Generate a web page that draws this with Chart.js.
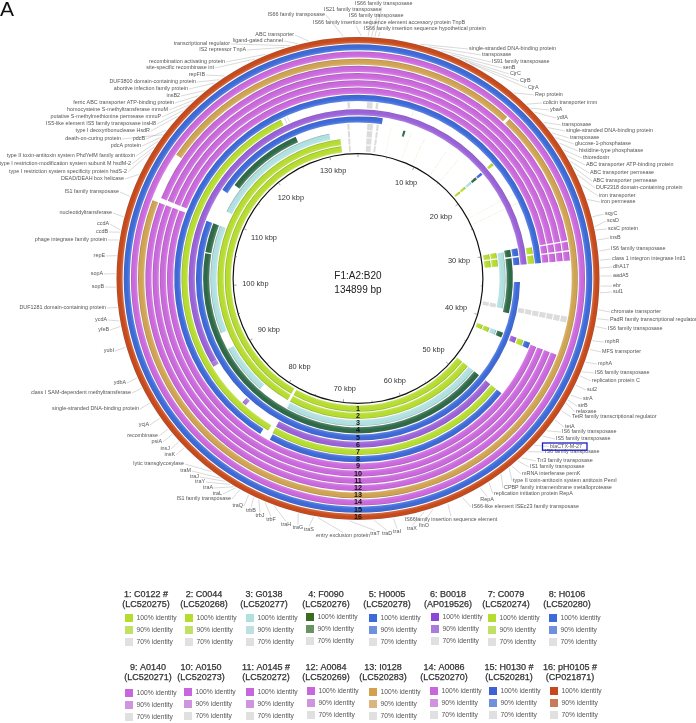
<!DOCTYPE html>
<html>
<head>
<meta charset="utf-8">
<script src="https://cdn.jsdelivr.net/npm/chart.js@4/dist/chart.umd.min.js"></script>
<style>
html,body{margin:0;padding:0;background:#fff;}
canvas{display:block;filter:blur(0.45px);}
</style>
</head>
<body>
<canvas id="c" width="696" height="723"></canvas>
<script>
// ---------- DATA ----------
const genomeKbp = 134.899;
const tickKbp = [10,20,30,40,50,60,70,80,90,100,110,120,130];
const strainNames = ['1: C0122 #','2: C0044','3: G0138','4: F0090','5: H0005','6: B0018','7: C0079','8: H0106',
  '9: A0140','10: A0150','11: A0145 #','12: A0084','13: I0128','14: A0086','15: H0130 #','16: pH0105 #'];
const accessions = ['(LC520275)','(LC520268)','(LC520277)','(LC520276)','(LC520278)','(AP019526)','(LC520274)','(LC520280)',
  '(LC520271)','(LC520273)','(LC520272)','(LC520269)','(LC520283)','(LC520270)','(LC520281)','(CP021871)'];
const identityLabels = ['100% identity','90% identity','70% identity'];

// BLAST hit spans [start kbp, end kbp, identity level]; 1 = 100%, 2 = 90%, 3 = 70%, 4 = trace hit
const traces = [[4.6,4.68,4],[7.5,7.58,4],[9.5,9.6,4],[13,13.1,4],[15,15.1,4],[23,23.08,4],[24.2,24.3,4]];
const greys = [[1.3,2.1,3],[2.6,2.9,3],[133.4,133.7,3]];
const ring1Spans = [[18.45,18.8,1],[29.8,30.6,1],[30.8,31.9,1],[37.6,38.2,3],[41.4,42.1,1],[48.2,78.3,1],[78.7,132.2,1]];
const ring2Spans = [[18.45,18.8,1],[29.8,30.6,1],[30.8,31.9,1],[37.6,38.2,3],[41.4,42.1,1],[48.2,78.3,1],[78.7,132.2,1]];
const ring3Spans = [[18.45,18.8,1],[29.9,38.1,1],[41.4,42.1,1],[48.2,78.2,1],[83,90.5,1],[93,109,1],[111.3,130.7,1]];
const ring4Spans = [[6.4,6.7,1],[18.45,18.8,1],[29.7,30.7,1],[30.9,38.6,1],[41.4,42.1,1],[48.2,104.7,1],[104.85,109,1],[115.1,126,1]];
const ring5Spans = [[0,3.3,1],[18.45,18.8,1],[29.7,30.7,1],[30.9,31.9,1],[34.2,109,1],[113.6,genomeKbp,1]];
const ring6Spans = [[0,31.9,1],[37.6,38.2,3],[41.4,42.1,1],[48.2,78.3,1],[83,83.6,2],[89.4,90,2],[90,genomeKbp,1]];
const ring7Spans = [[1.1,1.8,3],[2.2,2.5,3],[6.8,6.9,4],[18.45,18.8,1],[29.9,30.7,1],[30.9,31.9,1],[37.6,38.2,3],[41.4,42.1,1],[48.2,78.3,1],[78.9,125.2,1],[125.6,125.75,3],[126,126.1,3],[133.6,133.9,3]];
const ring8Spans = [[0,31.9,1],[37.6,38.2,3],[41.4,42.1,1],[48.2,78.2,1],[79.5,genomeKbp,1]];
const ring9Spans = [[0,29.85,1],[30,30.85,1],[31,31.9,1],[37.6,38.2,3],[41.6,109,1],[109.5,genomeKbp,1]];
const ring10Spans = [[0,29.85,1],[30,30.85,1],[31,31.9,1],[37.6,38.2,3],[41.6,109,1],[109.5,genomeKbp,1]];
const ring11Spans = [[0,29.85,1],[30,30.85,1],[31,31.9,1],[37.6,38.2,3],[41.6,109,1],[109.5,genomeKbp,1]];
const ring12Spans = [[0,29.85,1],[30,30.85,1],[31,31.9,1],[37.6,38.2,3],[41.6,109,1],[109.5,genomeKbp,1]];
const ring13Spans = [[0,16,1],[16.3,109,1],[114,genomeKbp,1]];
const ring14Spans = [[0,genomeKbp,1]];
const ring15Spans = [[0,genomeKbp,1]];
const ring16Spans = [[0,genomeKbp,1]];

// annotated genes, clockwise, and their position on the plasmid (kbp)
const geneNames = [
 'IS66 family insertion sequence hypothetical protein','IS66 family transposase','IS21 family transposase','IS6 family transposase','IS66 family insertion sequence element accessory protein TnpB',
 'single-stranded DNA-binding protein','transposase','IS91 family transposase','senB','CjrC','CjrB','CjrA','Rep protein',
 'colicin transporter imm','ybaA','ydfA','transposase','single-stranded DNA-binding protein','transposase','glucose-1-phosphatase','histidine-type phosphatase','thioredoxin',
 'ABC transporter ATP-binding protein','ABC transporter permease','ABC transporter permease','DUF2318 domain-containing protein','iron transporter','iron permease',
 'sqyC','scsD','scsC protein','insB','IS6 family transposase','class 1 integron integrase IntI1','dfrA17','aadA5','ebr','sul1',
 'chromate transporter','PadR family transcriptional regulator','IS6 family transposase','mphR','MFS transporter','mphA','IS6 family transposase','replication protein C','sul2','strA','strB','relaxase','TetR family transcriptional regulator','tetA',
 'IS6 family transposase','IS5 family transposase','blaCTX-M-27','IS6 family transposase','Tn3 family transposase','IS1 family transposase','mRNA interferase pemK','type II toxin-antitoxin system antitoxin PemI','CPBP family intramembrane metalloprotease','replication initiation protein RepA','RepA','IS66-like element ISEc23 family transposase',
 'IS66family insertion sequence element','finO','traX','traI','traD','traT','entry exclusion protein','traS','traG','traH','trbF','trbJ','trbB','traQ','IS1 family transposase','traL','traA','traY','traJ','traM','lytic transglycosylase',
 'insK','insJ','psiA','recombinase','ycjA','single-stranded DNA-binding protein','class I SAM-dependent methyltransferase','ydbA','yubI','yfeB','ycdA','DUF1281 domain-containing protein','sopB','sopA','repE','phage integrase family protein','ccdB','ccdA','nucleotidyltransferase','IS1 family transposase',
 'DEAD/DEAH box helicase','type I restriction system specificity protein hsdS-2','type I restriction-modification system subunit M hsdM-2','type II toxin-antitoxin system PhdYefM family antitoxin','pdcA protein','death-on-curing protein','pdcB','type I deoxyribonuclease HsdR','IS5-like element IS5 family transposase insH8','putative S-methylmethionine permease mmuP','homocysteine S-methyltransferase mmuM','ferric ABC transporter ATP-binding protein','insB2','abortive infection family protein','DUF3800 domain-containing protein','repFIB','site-specific recombinase int','recombination activating protein','IS2 repressor TnpA','transcriptional regulator','ligand-gated channel','ABC transporter','IS66 family transposase'
];
const geneKbp = [
 1.8,1.5,1.2,0.9,0.3,
 5.6,6.4,7.5,8.5,9.2,9.8,10.3,15,
 16.5,17,17.5,18.7,19.3,19.9,20.4,21,21.7,
 22.3,22.9,23.5,24.2,25.2,26.6,
 28.2,29.1,29.4,30.3,31.3,32.1,32.8,33.5,34.4,35,
 36.5,37.3,38,39.3,40.1,41.3,42.2,42.6,43.5,44.5,45,45.3,46.1,47.1,
 48.3,48.9,50,50.8,51.6,52,52.7,53,53.9,55.2,56.1,57.9,
 59.3,60.7,61.5,64.3,66,68.2,71,71.4,72.8,75,75.9,76.5,77,77.5,78.4,78.8,79,79.4,79.9,80.4,81.4,
 84.6,85.3,86.2,86.8,88,89.6,91.1,92.1,95,96.9,97.4,98.6,100.4,101.6,103.2,104.6,105.3,105.5,106.7,108.6,
 110.7,113,113.5,114.1,114.5,114.8,115.3,116.9,117.6,118.3,118.9,119.5,120.2,121.3,121.8,122.4,125.5,126.5,128.3,128.8,129.5,130.5,133.6
];

// ---------- LAYOUT (not data) ----------
const labelLayout = [
 [364,29,'l',380],[355,4,'l',382],[324,10,'l',378],[349,16,'l',371],[313,23,'l',356],
 [469,49,'l'],[482,55,'l'],[492,62,'l'],[503,68,'l'],[510,74,'l'],[520,81,'l'],[528,88,'l'],[535,95,'l'],
 [543,103,'l'],[550,110,'l'],[557,118,'l'],[562,125,'l'],[566,131,'l'],[570,138,'l'],[575,144,'l'],[579,151,'l'],[583,158,'l'],
 [586,165,'l'],[590,173,'l'],[593,181,'l'],[596,188,'l'],[599,196,'l'],[601,202,'l'],
 [605,214,'l'],[607,221,'l'],[608,229,'l'],[610,238,'l'],[611,249,'l'],[612,259,'l'],[613,267,'l'],[613,276,'l'],[613,286,'l'],[613,292,'l'],
 [611,312,'l'],[610,320,'l'],[608,329,'l'],[605,342,'l'],[602,352,'l'],[598,364,'l'],[595,373,'l'],[592,381,'l'],[587,390,'l'],[583,399,'l'],[578,406,'l'],[576,412,'l'],[572,417,'l'],[565,427,'l'],
 [562,432,'l'],[556,439,'l'],[550,446.5,'l'],[545,452,'l'],[537,461,'l'],[530,467,'l'],[522,474,'l'],[513,481,'l'],[504,488,'l'],[494,494,'l'],[487,500,'b'],[472,507,'l'],
 [451,520,'b'],[424,526,'b'],[412,529,'b'],[397,532,'b'],[387,534,'b'],[375,534,'b'],[343,536,'b'],[309,530,'b'],[298,528,'b'],[286,525,'b'],[271,520,'b'],[260,516,'b'],[251,511,'b'],[243,506,'r'],[231,499,'r'],[222,494,'r'],[213,488,'r'],[205,482,'r'],[199,477,'r'],[191,471,'r'],[184,464,'r'],
 [175,455,'r'],[170,449,'r'],[162,442,'r'],[158,436,'r'],[149,425,'r'],[139,409,'r'],[131,393,'r'],[126,383,'r'],[114,351,'r'],[109,330,'r'],[107,320,'r'],[106,308,'r'],[104,287,'r'],[103,274,'r'],[105,256,'r'],[107,240,'r'],[108,232,'r'],[109,224,'r'],[112,213,'r'],[119,192,'r'],
 [124,179,'r'],[127,172,'r'],[131,164,'r'],[135,156,'r'],[141,146,'r'],[121,139,'r'],[145,139,'r'],[150,131,'r'],[156,124,'r'],[161,117,'r'],[168,110,'r'],[174,103,'r'],[180,96,'r'],[188,89,'r'],[196,82,'r'],[205,75,'r'],[214,68,'r'],[225,62,'r'],[246,50,'r'],[230,44,'r'],[283,41,'r'],[294,35,'r'],[325,15,'r']
];
const cx = 358, cy = 278.5, outerR = 241.5, cutoutR = 124.3;
const ringW = 6.15, gapW = 1.08, hubW = 1.2, hubGapW = 1.6;
const ringColors = ['#b5dc2e','#b5dc2e','#b0e0e0','#2e6a48','#3d6ad8','#9a62d8','#b5dc2e','#3d6ad8','#cb68dd','#cb68dd','#cb68dd','#cb68dd','#cfa352','#cb68dd','#3d6ad8','#c84a1c'];
const legend100 = ['#b5dc2e','#b5dc2e','#b0e0e0','#3b6a22','#3d6ad8','#8a48d8','#b5dc2e','#3d6ad8','#c766dd','#c766dd','#c766dd','#c766dd','#d2a04e','#c766dd','#3d62d4','#c4481c'];
const legend90 = ['#c2e066','#c2e066','#bfdfe2','#6a9263','#6f90dc','#a97bdc','#c2e066','#6f90dc','#cf94de','#cf94de','#cf94de','#cf94de','#d9b67e','#cf94de','#6f90dc','#c97a58'];
const legendSwatchX = [125,185,246,306,369,431,488,549,125,184,246,307,369,430,489,550];
const legendSwatchY = [614,614,614,613,614,613,614,614,689,688,688,687,688,687,687,687];
const legendTitleX = [146,204,264,326,387,448,506,567,148,201,266,326,383,444,509,570];
const legendTitleY = [595,595,595,595,595,595,595,595,668,668,668,668,668,668,668,668];

const allSpans = [ring1Spans,ring2Spans,ring3Spans,ring4Spans,ring5Spans,ring6Spans,ring7Spans,ring8Spans,ring9Spans,ring10Spans,ring11Spans,ring12Spans,ring13Spans,ring14Spans,ring15Spans,ring16Spans];
const FONT = '"Liberation Sans", Arial, sans-serif';

function hex(c){return [1,3,5].map(i=>parseInt(c.substr(i,2),16));}
function mix(c,o,t){const a=hex(c),b=hex(o);return 'rgb('+a.map((v,i)=>Math.round(v*(1-t)+b[i]*t)).join(',')+')';}

const canvas = document.getElementById('c');
const g = canvas.getContext('2d');

const totalWeight = hubW + hubGapW + 16*ringW + 15*gapW;
const k = (outerR-cutoutR)/totalWeight;
function ringBand(i){const inner=cutoutR+(hubW+hubGapW+i*(ringW+gapW))*k;return [inner,inner+ringW*k];}
function ringPaint(i,base){
  const b=ringBand(i);
  const gr=g.createRadialGradient(cx,cy,b[0],cx,cy,b[1]);
  gr.addColorStop(0,mix(base,'#ffffff',0.18));
  gr.addColorStop(0.45,base);
  gr.addColorStop(0.8,base);
  gr.addColorStop(1,mix(base,'#555555',0.4));
  return gr;
}
function buildRing(i){
  let spans = allSpans[i].slice();
  if(i<4) spans = spans.concat(greys);
  if(i<7) spans = spans.concat(traces.filter(t=>i<4||t[0]>20));
  spans.sort((a,b)=>a[0]-b[0]);
  const data=[],colors=[];let pos=0;
  spans.forEach(s=>{
    if(s[0]<pos) return;
    if(s[0]>pos){data.push(s[0]-pos);colors.push('rgba(0,0,0,0)');}
    data.push(s[1]-s[0]);
    colors.push(s[2]===1?ringPaint(i,ringColors[i]):s[2]===2?ringPaint(i,legend90[i]):s[2]===3?'#dcdcdc':'#eef1d8');
    pos=s[1];
  });
  if(pos<genomeKbp){data.push(genomeKbp-pos);colors.push('rgba(0,0,0,0)');}
  return {data,backgroundColor:colors,borderWidth:0,weight:ringW};
}
// Chart.js paints dataset 0 as the outermost ring, so ring 16 comes first
const datasets=[];
for(let i=15;i>=0;i--){
  datasets.push(buildRing(i));
  if(i>0) datasets.push({data:[1],backgroundColor:['rgba(0,0,0,0)'],borderWidth:0,weight:gapW});
}
datasets.push({data:[1],backgroundColor:['rgba(0,0,0,0)'],borderWidth:0,weight:hubGapW});
datasets.push({data:[1],backgroundColor:['#111111'],borderWidth:0,weight:hubW});

function polar(kbp,r){const a=kbp/genomeKbp*2*Math.PI;return [cx+r*Math.sin(a),cy-r*Math.cos(a)];}

const annotations={id:'annotations',afterDraw(chart){
  const c=chart.ctx;
  c.save();
  c.textBaseline='middle';
  // panel letter
  c.fillStyle='#111';c.textAlign='left';c.font='21px '+FONT;c.fillText('A',0,10);
  // centre text
  c.fillStyle='#222';c.textAlign='center';c.font='10px '+FONT;
  c.fillText('F1:A2:B20',cx,276);c.fillText(genomeKbp*1000+' bp',cx,290);
  // backbone ticks
  c.strokeStyle='#666';c.lineWidth=0.6;
  for(let t=0;t<genomeKbp;t+=5){
    const r2=t%10===0?121.5:123;
    const p=polar(t,124.5),q=polar(t,r2);
    c.beginPath();c.moveTo(p[0],p[1]);c.lineTo(q[0],q[1]);c.stroke();
  }
  c.fillStyle='#333';c.font='7.4px '+FONT;
  tickKbp.forEach(t=>{
    const a=t/genomeKbp*2*Math.PI;
    const r=117-Math.abs(Math.sin(a))*14-Math.abs(Math.cos(a))*4;
    const p=polar(t,r);
    c.fillText(t+' kbp',p[0],p[1]);
  });
  // ring numbers
  c.fillStyle='#111';c.font='bold 7.2px '+FONT;
  for(let i=0;i<16;i++){const b=ringBand(i);c.fillText(String(i+1),cx,cy+(b[0]+b[1])/2);}
  // gene labels and leaders
  c.font='5.4px '+FONT;
  geneNames.forEach((name,i)=>{
    const L=labelLayout[i];const x=L[0],y=L[1],side=L[2],lx=L[3];
    let sx,sy;
    if(lx!==undefined){sx=lx;sy=y+3;}
    else if(side==='l'){sx=x-1;sy=y;}
    else if(side==='r'){sx=x+1;sy=y;}
    else {sx=x;sy=y-3.5;}
    const e=polar(geneKbp[i],242.5);
    c.strokeStyle='#a0a0a0';c.lineWidth=0.4;
    c.beginPath();c.moveTo(sx,sy);c.lineTo(e[0],e[1]);c.stroke();
    c.fillStyle='#555';
    c.textAlign=side==='l'?'left':side==='r'?'right':'center';
    c.fillText(name,x,y);
  });
  // highlighted gene box
  c.strokeStyle='#1a1ac8';c.lineWidth=1.3;c.strokeRect(542.5,443,44.5,7.2);
  // legend
  c.textAlign='center';
  strainNames.forEach((s,i)=>{
    c.fillStyle='#333';c.strokeStyle='#333';c.lineWidth=0.25;c.font='9px '+FONT;
    c.textAlign='center';
    c.fillText(s,legendTitleX[i],legendTitleY[i]);
    c.strokeText(s,legendTitleX[i],legendTitleY[i]);
    c.fillText(accessions[i],legendTitleX[i],legendTitleY[i]+10);
    c.strokeText(accessions[i],legendTitleX[i],legendTitleY[i]+10);
    const sw=[legend100[i],legend90[i],'#e0e0e0'];
    c.font='6.7px '+FONT;c.textAlign='left';
    identityLabels.forEach((lab,j)=>{
      const y=legendSwatchY[i]+12*j;
      c.fillStyle=sw[j];c.fillRect(legendSwatchX[i],y,8,8);
      c.fillStyle='#555';c.fillText(lab,legendSwatchX[i]+11.5,y+4);
    });
  });
  c.restore();
}};

new Chart(g,{
  type:'doughnut',
  data:{datasets},
  plugins:[annotations],
  options:{
    responsive:false,animation:false,
    cutout:cutoutR,
    rotation:0,circumference:360,
    layout:{padding:{left:cx-outerR,right:696-cx-outerR,top:cy-outerR,bottom:723-cy-outerR}},
    plugins:{legend:{display:false},tooltip:{enabled:false}},
    elements:{arc:{borderWidth:0}}
  }
});
</script>
</body>
</html>
